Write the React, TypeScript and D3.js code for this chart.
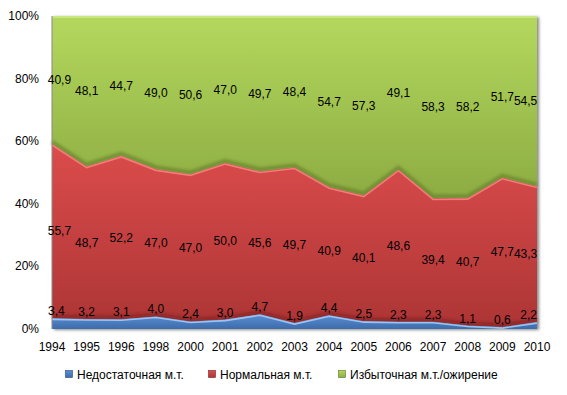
import React from 'react';
import * as d3 from 'd3';

const years = ['1994', '1995', '1996', '1998', '2000', '2001', '2002', '2003', '2004', '2005', '2006', '2007', '2008', '2009', '2010'];
const under = [3.4, 3.2, 3.1, 4.0, 2.4, 3.0, 4.7, 1.9, 4.4, 2.5, 2.3, 2.3, 1.1, 0.6, 2.2];
const normal = [55.7, 48.7, 52.2, 47.0, 47.0, 50.0, 45.6, 49.7, 40.9, 40.1, 48.6, 39.4, 40.7, 47.7, 43.3];
const over = [40.9, 48.1, 44.7, 49.0, 50.6, 47.0, 49.7, 48.4, 54.7, 57.3, 49.1, 58.3, 58.2, 51.7, 54.5];
const seriesNames = ['Недостаточная м.т.', 'Нормальная м.т.', 'Избыточная м.т./ожирение'];
const yTicks = [0, 0.2, 0.4, 0.6, 0.8, 1];

const colors = [
  { top: '#5b8fd4', bottom: '#3d6cab', light: '#9cc4f2', dark: '#25497a' },
  { top: '#dc4c4c', bottom: '#ad3535', light: '#f37b7b', dark: '#7a1e1e' },
  { top: '#b4d85e', bottom: '#8cac42', light: '#cfeb8f', dark: '#5a7423' },
];

const fmt = (v: number) => v.toFixed(1).replace('.', ',');

export default function App() {
  const W = 567, H = 395;
  const m = { left: 52, right: 30, top: 16, bottom: 66 };
  const x = d3.scalePoint<string>().domain(years).range([m.left, W - m.right]);
  const y = d3.scaleLinear().domain([0, 1]).range([H - m.bottom, m.top]);

  const rows = years.map((yr, i) => ({ year: yr, a: under[i], b: normal[i], c: over[i] }));
  const stacked = d3.stack<any>().keys(['a', 'b', 'c']).offset(d3.stackOffsetExpand)(rows);
  const raw = [under, normal, over];

  const area = d3.area<any>().x((d) => x(d.data.year)!).y0((d) => y(d[0])).y1((d) => y(d[1]));
  const topLine = d3.line<any>().x((d) => x(d.data.year)!).y((d) => y(d[1]));

  const font = '"Liberation Sans", Arial, sans-serif';
  const legendX = [66, 209, 339];

  // keep labels inside the plot, as the original does
  const labelX = (yr: string, txt: string) => {
    const w = txt.length * 6.2;
    return Math.min(Math.max(x(yr)!, m.left - 5 + w / 2), W - m.right + 1 - w / 2);
  };

  return (
    <svg width={W} height={H} style={{ position: 'absolute', left: 0, top: 0 }}>
      <defs>
        {colors.map((c, i) => (
          <linearGradient key={i} id={`g${i}`} x1="0" y1="0" x2="0" y2="1">
            <stop offset="0" stopColor={c.top} />
            <stop offset="1" stopColor={c.bottom} />
          </linearGradient>
        ))}
        <filter id="blur" x="-5%" y="-20%" width="110%" height="140%">
          <feGaussianBlur stdDeviation="1.5" />
        </filter>
      </defs>
      <rect width={W} height={H} fill="#fff" />
      {/* plot shadow */}
      <rect x={m.left + 2} y={m.top + 1} width={W - m.left - m.right} height={H - m.top - m.bottom} fill="#888" filter="url(#blur)" />
      {[2, 1, 0].map((si) => {
        const s = stacked[si];
        return (
          <g key={si}>
            {si < 2 && (
              <path d={topLine(s)!} fill="none" stroke={colors[si + 1].dark} strokeOpacity={0.6} strokeWidth={4} filter="url(#blur)" transform="translate(0,-2)" />
            )}
            <path d={area(s)!} fill={`url(#g${si})`} />
            <path d={topLine(s)!} fill="none" stroke={colors[si].light} strokeWidth={1.6} transform="translate(0,1)" />
          </g>
        );
      })}
      <line x1={m.left} x2={m.left} y1={m.top} y2={H - m.bottom} stroke="#8a8a8a" strokeWidth={1} />
      {/* y axis */}
      {yTicks.map((t) => (
        <text key={t} x={39} y={y(t) + 4} textAnchor="end" fontFamily={font} fontSize={12} fill="#000">
          {Math.round(t * 100)}%
        </text>
      ))}
      {/* x axis */}
      {years.map((yr) => (
        <text key={yr} x={x(yr)} y={351} textAnchor="middle" fontFamily={font} fontSize={12} fill="#000">
          {yr}
        </text>
      ))}
      {/* data labels */}
      {stacked.map((s, si) =>
        s.map((d: any, i: number) => {
          const cy = si === 0 ? y(d[1]) - 7 : (y(d[0]) + y(d[1])) / 2;
          const txt = fmt(raw[si][i]);
          return (
            <text key={`${si}-${i}`} x={labelX(d.data.year, txt)} y={cy + 4} textAnchor="middle" fontFamily={font} fontSize={12} fill="#000">
              {txt}
            </text>
          );
        })
      )}
      {/* legend */}
      {seriesNames.map((n, i) => (
        <g key={n}>
          <rect x={legendX[i] - 0.5} y={370.5} width={7} height={7} fill={`url(#g${i})`} stroke={colors[i].dark} strokeWidth={0.6} />
          <text x={legendX[i] + 11} y={378.5} fontFamily={font} fontSize={12} fill="#000">{n}</text>
        </g>
      ))}
    </svg>
  );
}
